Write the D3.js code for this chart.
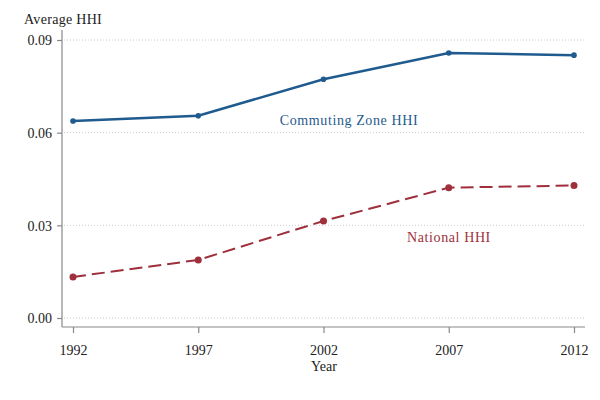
<!DOCTYPE html>
<html>
<head>
<meta charset="utf-8">
<script src="https://cdn.jsdelivr.net/npm/d3@7"></script>
<style>
body { margin: 0; background: #fff; }
</style>
</head>
<body>
<svg width="600" height="400"></svg>
<script>
const years = [1992, 1997, 2002, 2007, 2012];
const czHHI = [0.0638, 0.0655, 0.0773, 0.0858, 0.0851];
const natHHI = [0.0133, 0.0188, 0.0314, 0.0422, 0.0429];
const yTicks = [0, 0.03, 0.06, 0.09];

const blue = "#1f5b8e";
const red = "#9e2f3b";
const serif = "'Liberation Serif', 'Times New Roman', serif";

const svg = d3.select("svg");

// plot area
const plotL = 62, plotR = 585, plotT = 30, plotB = 327;

const x = d3.scaleLinear().domain([1992, 2012]).range([73, 574]);
const y = d3.scaleLinear().domain([0, 0.09]).range([318, 40]);

// grid lines
svg.append("g")
  .selectAll("line")
  .data(yTicks)
  .join("line")
  .attr("x1", plotL + 2)
  .attr("x2", plotR)
  .attr("y1", d => y(d))
  .attr("y2", d => y(d))
  .attr("stroke", "#c8c8c8")
  .attr("stroke-width", 1)
  .attr("stroke-dasharray", "1,2");

// y axis
const yAxis = svg.append("g")
  .attr("transform", `translate(${plotL},0)`)
  .call(d3.axisLeft(y).tickValues(yTicks).tickFormat(d3.format(".2f")).tickSize(5).tickPadding(5));
yAxis.attr("font-family", null);
yAxis.select(".domain").remove();
yAxis.append("line").attr("x1", 0).attr("x2", 0).attr("y1", plotT).attr("y2", plotB);
yAxis.selectAll("line").attr("stroke", "#888").attr("stroke-width", 1.2);
yAxis.selectAll("text").attr("font-size", 14).attr("fill", "#222").attr("dy", "0.35em")
  .style("font-family", serif);

// x axis
const xAxis = svg.append("g")
  .attr("transform", `translate(0,${plotB})`)
  .call(d3.axisBottom(x).tickValues(years).tickFormat(d3.format("d")).tickSize(6).tickPadding(12));
xAxis.attr("font-family", null);
xAxis.select(".domain").remove();
xAxis.append("line").attr("x1", plotL).attr("x2", plotR).attr("y1", 0).attr("y2", 0);
xAxis.selectAll("line").attr("stroke", "#888").attr("stroke-width", 1.2);
xAxis.selectAll("text").attr("font-size", 14).attr("fill", "#222")
  .style("font-family", serif);

// axis titles
svg.append("text").attr("x", 24).attr("y", 24).attr("font-size", 14).attr("letter-spacing", 0.3)
  .style("font-family", serif).attr("fill", "#222").text("Average HHI");
svg.append("text").attr("x", 324).attr("y", 371).attr("text-anchor", "middle").attr("font-size", 14)
  .style("font-family", serif).attr("fill", "#222").text("Year");

const line = d3.line().x(d => x(d[0])).y(d => y(d[1]));

// commuting zone series
const cz = years.map((yr, i) => [yr, czHHI[i]]);
svg.append("path").datum(cz)
  .attr("d", line).attr("fill", "none")
  .attr("stroke", blue).attr("stroke-width", 2.5);
svg.append("g").selectAll("circle").data(cz).join("circle")
  .attr("cx", d => x(d[0])).attr("cy", d => y(d[1])).attr("r", 2.8).attr("fill", blue);

// national series
const nat = years.map((yr, i) => [yr, natHHI[i]]);
svg.append("path").datum(nat)
  .attr("d", line).attr("fill", "none")
  .attr("stroke", red).attr("stroke-width", 2)
  .attr("stroke-dasharray", "13,6");
svg.append("g").selectAll("circle").data(nat).join("circle")
  .attr("cx", d => x(d[0])).attr("cy", d => y(d[1])).attr("r", 3.5).attr("fill", red);

// series labels
svg.append("text").attr("x", 349).attr("y", 125).attr("text-anchor", "middle")
  .attr("font-size", 14).attr("letter-spacing", 0.6)
  .style("font-family", serif).attr("fill", blue).text("Commuting Zone HHI");
svg.append("text").attr("x", 449).attr("y", 242).attr("text-anchor", "middle")
  .attr("font-size", 14).attr("letter-spacing", 0.6)
  .style("font-family", serif).attr("fill", red).text("National HHI");
</script>
</body>
</html>
